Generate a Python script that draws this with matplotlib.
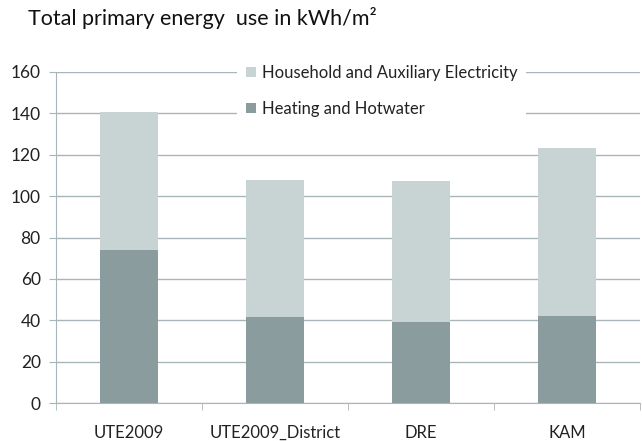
import numpy as np
import matplotlib.pyplot as plt

categories = ["UTE2009", "UTE2009_District", "DRE", "KAM"]
heating = [74, 41.5, 39, 42]
total = [140.5, 108, 107.5, 123.5]
household = [t - h for t, h in zip(total, heating)]

plt.rcParams['font.family'] = ['Lato', 'DejaVu Sans']

fig = plt.figure(figsize=(6.42, 4.41), dpi=100)
ax = fig.add_axes([56 / 642, 38 / 441, 584 / 642, 331 / 441])

x = np.arange(len(categories))
c_dark = '#8a9c9e'
c_light = '#c8d3d4'
grid_c = '#a9b6b9'

ax.bar(x, heating, width=0.4, color=c_dark, label='Heating and Hotwater', zorder=3)
ax.bar(x, household, bottom=heating, width=0.4, color=c_light,
       label='Household and Auxiliary Electricity', zorder=3)

ax.set_xlim(-0.5, len(categories) - 0.5)
ax.set_ylim(0, 160)
ax.set_yticks(np.arange(0, 161, 20))
ax.yaxis.grid(True, color=grid_c, linewidth=1.0, zorder=0)
ax.set_axisbelow(True)

ax.set_xticks(x)
ax.set_xticklabels(categories, fontsize=12, color='#222222')
ax.tick_params(axis='x', length=0, pad=16)
ax.set_xticks(np.arange(-0.5, len(categories)), minor=True)
ax.tick_params(axis='x', which='minor', length=5, color=grid_c, direction='out')
ax.tick_params(axis='y', length=5, color=grid_c, labelsize=12.5, labelcolor='#222222', pad=6)

for s in ['top', 'right']:
    ax.spines[s].set_visible(False)
for s in ['left', 'bottom']:
    ax.spines[s].set_color(grid_c)

h, l = ax.get_legend_handles_labels()
leg = ax.legend(h[::-1], l[::-1], loc='upper left', bbox_to_anchor=(0.296, 1.072),
                frameon=True, fontsize=12, handlelength=0.6, handleheight=0.6,
                labelspacing=1.2, handletextpad=0.4, borderpad=0.5)
leg.get_frame().set_edgecolor('none')
leg.get_frame().set_facecolor('white')
leg.get_frame().set_alpha(1)
for t in leg.get_texts():
    t.set_color('#222222')

fig.text(28 / 642, 1 - 18 / 441, "Total primary energy  use in kWh/m²", fontsize=15.5,
         va='center', ha='left', color='#111111')

fig.savefig('out.png', dpi=100)
